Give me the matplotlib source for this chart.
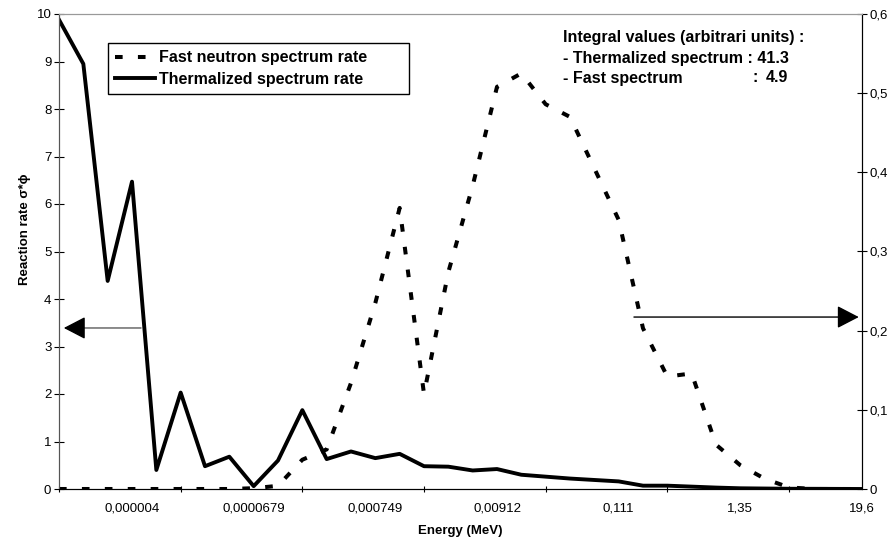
import numpy as np
import matplotlib
matplotlib.use('Agg')
import matplotlib.pyplot as plt

plt.rcParams['font.family'] = ['Liberation Sans', 'DejaVu Sans']
plt.rcParams['lines.scale_dashes'] = False

# energy bins (category axis), labels every 5th bin starting at bin 3
energy_labels = ['0,000004', '0,0000679', '0,000749', '0,00912', '0,111', '1,35', '19,6']

# thermalized spectrum rate (left axis)
thermal = [9.88, 8.95, 4.38, 6.47, 0.40, 2.03, 0.48, 0.68, 0.06, 0.60,
           1.66, 0.63, 0.79, 0.65, 0.74, 0.48, 0.47, 0.39, 0.42, 0.30,
           0.26, 0.22, 0.19, 0.16, 0.07, 0.07, 0.05, 0.03, 0.015, 0.01,
           0.005, 0.004, 0.002, 0.0]

# fast neutron spectrum rate (right axis)
fast = [0, 0, 0, 0, 0, 0, 0, 0, 0.001, 0.004,
        0.037, 0.05, 0.134, 0.235, 0.355, 0.12, 0.274, 0.383, 0.508, 0.525,
        0.486, 0.47, 0.405, 0.34, 0.203, 0.142, 0.146, 0.056, 0.03, 0.013,
        0.002, 0, 0, 0]

idx = np.arange(len(thermal))

fig = plt.figure(figsize=(8.93, 5.42), dpi=100)
ax = fig.add_axes([59/893, 1-489/542, (862-59)/893, (489-14)/542])
ax2 = ax.twinx()

ax2.plot(idx, fast, color='black', lw=2.9, linestyle=(0, (5.5, 11)),
         dash_capstyle='butt', label='Fast neutron spectrum rate')
ax.plot(idx, thermal, color='black', lw=2.8, label='Thermalized spectrum rate')

ax.set_xlim(0, len(thermal)-1)
ax.set_ylim(0, 10)
ax2.set_ylim(0, 0.6)

ax.set_yticks(range(0, 11))
ax2.set_yticks(np.arange(0, 0.61, 0.1))
ax2.set_yticklabels(['0'] + ['0,%d' % k for k in range(1, 7)])

ax.set_xticks(range(0, 31, 5))
ax.set_xticklabels([])
ax.set_xticks(range(3, 34, 5), minor=True)
ax.set_xticklabels(energy_labels, minor=True)

ax.tick_params(axis='x', which='major', direction='inout', length=5, width=0.8)
ax.tick_params(axis='x', which='minor', length=0, pad=10, labelsize=9.5)
ax.tick_params(axis='y', direction='inout', length=7, width=0.8, labelsize=9.5, pad=2)
ax2.tick_params(axis='y', direction='inout', length=7, width=0.8, labelsize=9.5, pad=2)

for a in (ax, ax2):
    a.spines['top'].set_color('#999999')
    a.spines['left'].set_color('#555555')
    a.spines['right'].set_color('black')
    a.spines['bottom'].set_color('black')

ax.set_xlabel('Energy (MeV)', fontsize=9.5, fontweight='bold', labelpad=7)
ax.set_ylabel('Reaction rate σ*ϕ', fontsize=9.5, fontweight='bold')
ax.yaxis.set_label_coords(-0.035, 0.547)

# legend
h1, l1 = ax2.get_legend_handles_labels()
h2, l2 = ax.get_legend_handles_labels()
leg = fig.legend(h1 + h2, l1 + l2, loc='upper left',
                 bbox_to_anchor=(108/893, 1-43/542-0.01, (409-108)/893, 0.01),
                 mode='expand', fancybox=False, edgecolor='black',
                 framealpha=1, borderpad=0.45, borderaxespad=0,
                 handlelength=2.5, handletextpad=0.25, labelspacing=0.43,
                 prop={'size': 11.5, 'weight': 'bold'})
leg.get_frame().set_linewidth(1.0)

# integral values note
fs = 11.5
fig.text(563/893, 1-38/542, 'Integral values (arbitrari units) :', fontsize=fs,
         fontweight='bold', va='center')
fig.text(563/893, 1-58/542, '- Thermalized spectrum : 41.3', fontsize=fs,
         fontweight='bold', va='center')
fig.text(563/893, 1-78/542, '- Fast spectrum', fontsize=fs,
         fontweight='bold', va='center')
fig.text(752/893, 1-78/542, ':', fontsize=fs, fontweight='bold', va='center')
fig.text(788/893, 1-78/542, '4.9', fontsize=fs, fontweight='bold',
         va='center', ha='right')

# arrows pointing to the axis of each curve
head = '-|>,head_length=1.35,head_width=0.7'
ax.annotate('', xy=(0.025, 0.339), xytext=(0.102, 0.339),
            xycoords='axes fraction',
            arrowprops=dict(arrowstyle='-', color='#777777', lw=1.2,
                            shrinkA=0, shrinkB=0))
ax.annotate('', xy=(0.006, 0.339), xytext=(0.027, 0.339),
            xycoords='axes fraction',
            arrowprops=dict(arrowstyle=head, color='black', lw=1.0,
                            shrinkA=0, shrinkB=0))
ax.annotate('', xy=(0.996, 0.362), xytext=(0.716, 0.362),
            xycoords='axes fraction',
            arrowprops=dict(arrowstyle=head, color='black', lw=1.0,
                            shrinkA=0, shrinkB=0))

fig.savefig('out.png', dpi=100)
